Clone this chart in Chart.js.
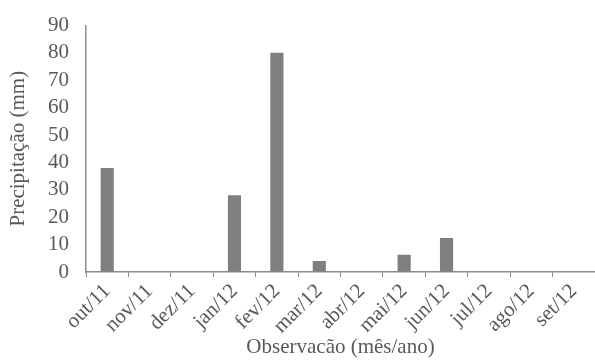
<!DOCTYPE html>
<html>
<head>
<meta charset="utf-8">
<script src="https://cdn.jsdelivr.net/npm/chart.js@4/dist/chart.umd.min.js"></script>
<style>
  html, body { margin: 0; padding: 0; background: #fff; }
  #wrap { width: 595px; height: 360px; }
</style>
</head>
<body>
<div id="wrap"><canvas id="grafico"></canvas></div>
<script>
// dados
const meses = ['out/11', 'nov/11', 'dez/11', 'jan/12', 'fev/12', 'mar/12', 'abr/12', 'mai/12', 'jun/12', 'jul/12', 'ago/12', 'set/12'];
const precipitacao = [38, 0, 0, 28, 80, 4, 0, 6.3, 12.4, 0, 0, 0];
const yMin = 0, yMax = 90, yPasso = 10;

const cinzaEixo = '#8c8c8c';
const corTexto = '#595959';
const fonte = 'Liberation Serif, "Times New Roman", serif';

Chart.defaults.font.family = fonte;
Chart.defaults.color = corTexto;

const ctx = document.getElementById('grafico');

new Chart(ctx, {
    type: 'bar',
    data: {
        labels: meses,
        datasets: [{
            data: precipitacao,
            backgroundColor: '#7f7f7f',
            borderWidth: 0,
            categoryPercentage: 1,
            barPercentage: 0.31
        }]
    },
    options: {
        responsive: true,
        maintainAspectRatio: false,
        animation: false,
        layout: { padding: { top: 22, right: 0, left: 0, bottom: 0 } },
        plugins: {
            legend: { display: false },
            tooltip: { enabled: false }
        },
        scales: {
            x: {
                offset: true,
                grid: {
                    offset: true,
                    drawOnChartArea: false,
                    drawTicks: true,
                    tickLength: 5,
                    color: cinzaEixo
                },
                border: { display: true, color: cinzaEixo, width: 1.5 },
                ticks: {
                    font: { size: 21 },
                    minRotation: 45,
                    maxRotation: 45,
                    padding: 2,
                    autoSkip: false
                },
                title: {
                    display: true,
                    text: 'Observacão (mês/ano)',
                    font: { size: 21 },
                    padding: { top: 0, bottom: 0 }
                },
                afterFit: (scale) => { scale.height = 88; }
            },
            y: {
                min: yMin,
                max: yMax,
                grid: { drawOnChartArea: false, drawTicks: false, color: cinzaEixo },
                border: { display: true, color: cinzaEixo, width: 1.5 },
                ticks: {
                    stepSize: yPasso,
                    autoSkip: false,
                    font: { size: 21, lineHeight: 0.8 },
                    padding: 17
                },
                title: {
                    display: true,
                    text: 'Precipitação (mm)',
                    font: { size: 21 },
                    padding: { top: 6, bottom: 0 }
                },
                afterFit: (scale) => { scale.width = 86; }
            }
        }
    }
});
</script>
</body>
</html>
